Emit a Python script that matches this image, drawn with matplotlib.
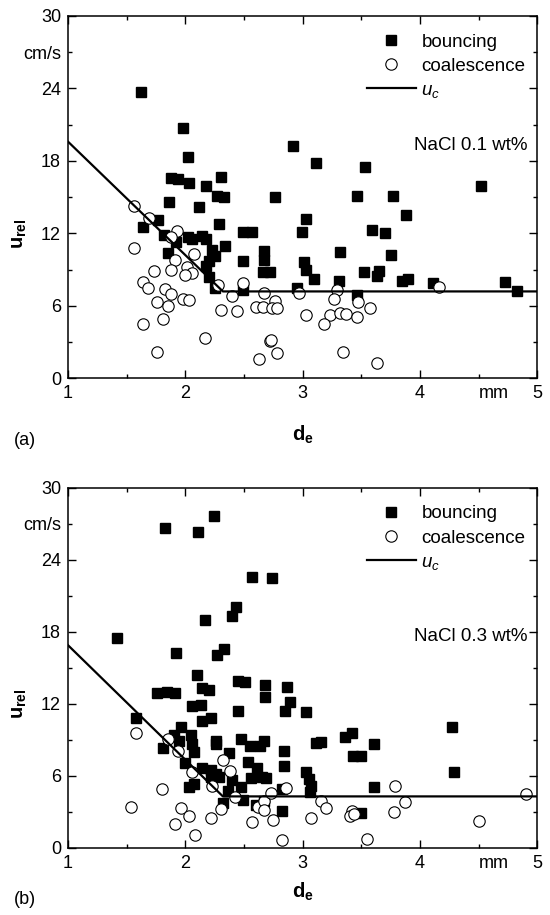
import matplotlib
matplotlib.use("Agg")
import matplotlib.pyplot as plt

plt.rcParams['font.family'] = ['Liberation Sans', 'DejaVu Sans']
plt.rcParams['mathtext.fontset'] = 'custom'
plt.rcParams['mathtext.rm'] = 'Liberation Sans'
plt.rcParams['mathtext.it'] = 'Liberation Sans:italic'
plt.rcParams['mathtext.bf'] = 'Liberation Sans:bold'

# ---------------- Panel (a): NaCl 0.1 wt% ----------------
a_bounce_d = [1.62, 1.98, 2.02, 1.88, 1.94, 2.03, 2.30, 2.18, 2.27, 2.33, 1.86, 2.12, 1.77, 1.64,
              2.29, 1.82, 1.92, 2.02, 2.06, 2.14, 2.18, 2.34, 2.49, 2.57, 1.85, 2.23, 2.25, 2.20,
              2.18, 2.20, 2.25, 2.49, 2.49, 2.67, 2.67, 2.66, 2.72, 2.76, 2.92, 3.03, 2.99, 3.01,
              3.03, 2.95, 3.11, 3.53, 3.46, 3.77, 3.88, 4.52, 3.59, 3.70, 3.32, 3.75, 3.10, 3.31,
              3.52, 3.65, 3.63, 3.85, 3.90, 4.11, 3.46, 4.72, 4.83]
a_bounce_u = [23.7, 20.7, 18.3, 16.6, 16.5, 16.2, 16.7, 15.9, 15.1, 15.05, 14.6, 14.2, 13.1, 12.5,
              12.8, 11.9, 11.3, 11.7, 11.55, 11.8, 11.55, 11.0, 12.1, 12.1, 10.4, 10.6, 10.1, 9.7,
              9.3, 8.4, 7.5, 9.7, 7.3, 10.55, 9.8, 8.8, 8.8, 15.0, 19.2, 13.2, 12.1, 9.6,
              9.0, 7.5, 17.8, 17.5, 15.1, 15.1, 13.5, 15.9, 12.3, 12.0, 10.5, 10.2, 8.2, 8.1,
              8.8, 8.9, 8.5, 8.1, 8.2, 7.9, 6.9, 8.0, 7.2]
a_coal_d = [1.56, 1.69, 1.56, 1.93, 1.88, 2.07, 1.91, 2.01, 2.06, 2.00, 1.88, 1.73, 1.64, 1.68,
            1.83, 1.88, 1.76, 1.85, 1.98, 2.03, 1.81, 1.64, 1.76, 2.28, 2.40, 2.49, 2.30, 2.44,
            2.17, 2.67, 2.60, 2.66, 2.76, 2.74, 2.78, 2.72, 2.73, 2.78, 2.63, 2.97, 3.03, 3.29,
            3.27, 3.47, 3.57, 3.23, 3.32, 3.37, 3.46, 3.18, 3.34, 3.63, 4.16]
a_coal_u = [14.3, 13.3, 10.8, 12.2, 11.7, 10.3, 9.8, 9.25, 8.75, 8.55, 9.0, 8.9, 8.0, 7.5,
            7.4, 7.0, 6.3, 6.0, 6.6, 6.5, 4.9, 4.5, 2.2, 7.7, 6.8, 7.9, 5.7, 5.6,
            3.35, 7.05, 5.9, 5.9, 6.4, 5.8, 5.8, 3.1, 3.2, 2.1, 1.6, 7.1, 5.25, 7.3,
            6.6, 6.3, 5.8, 5.25, 5.4, 5.3, 5.1, 4.5, 2.2, 1.3, 7.55]
a_uc_d = [1.0, 2.32, 5.0]
a_uc_u = [19.6, 7.2, 7.2]

# ---------------- Panel (b): NaCl 0.3 wt% ----------------
b_bounce_d = [1.83, 2.11, 2.24, 2.57, 2.74, 2.43, 2.40, 2.17, 1.42, 1.92, 2.33, 2.27, 2.10, 1.76,
              1.84, 1.91, 2.14, 2.20, 2.45, 2.51, 2.68, 2.68, 2.87, 2.06, 2.13, 2.45, 2.85, 2.89,
              2.14, 2.22, 1.58, 1.96, 1.90, 1.95, 2.05, 2.06, 2.07, 1.81, 2.26, 2.26, 2.47, 2.55,
              2.64, 2.67, 2.37, 2.84, 2.84, 2.53, 2.61, 2.65, 2.69, 2.00, 2.14, 2.22, 2.29, 2.22,
              2.26, 2.40, 2.47, 2.56, 2.03, 2.07, 2.36, 2.32, 2.49, 2.60, 2.67, 2.82, 2.82, 3.03,
              3.36, 3.42, 3.11, 3.16, 3.43, 3.50, 3.61, 4.27, 4.29, 3.03, 3.05, 3.07, 3.06, 3.61,
              3.50]
b_bounce_u = [26.7, 26.3, 27.7, 22.6, 22.5, 20.1, 19.3, 19.0, 17.5, 16.25, 16.6, 16.1, 14.4, 12.9,
              13.0, 12.9, 13.3, 13.2, 13.9, 13.85, 13.6, 12.6, 13.45, 11.8, 11.9, 11.4, 11.4, 12.2,
              10.6, 10.85, 10.85, 10.05, 9.4, 8.95, 9.4, 8.7, 8.0, 8.3, 8.95, 8.7, 9.1, 8.5,
              8.5, 8.95, 7.9, 8.05, 6.85, 7.2, 6.7, 5.95, 5.8, 7.1, 6.65, 6.5, 5.95, 5.95,
              6.2, 5.7, 5.1, 5.8, 5.1, 5.3, 4.75, 3.75, 4.0, 3.6, 3.9, 3.05, 4.9, 11.3,
              9.25, 9.55, 8.75, 8.8, 7.7, 7.65, 8.65, 10.05, 6.3, 6.35, 5.75, 5.15, 4.65, 5.05,
              2.9]
b_coal_d = [1.58, 1.85, 1.94, 2.06, 2.32, 2.38, 2.23, 1.80, 1.54, 1.96, 2.03, 1.91, 2.08, 2.22,
            2.30, 2.42, 2.57, 2.62, 2.67, 2.67, 2.73, 2.75, 2.82, 2.86, 3.16, 3.20, 3.07, 3.42,
            3.40, 3.44, 3.79, 3.87, 3.78, 3.55, 4.50, 4.90]
b_coal_u = [9.6, 9.1, 8.05, 6.3, 7.3, 6.4, 5.15, 4.9, 3.4, 3.3, 2.7, 2.0, 1.1, 2.5,
            3.25, 4.25, 2.2, 3.45, 3.9, 3.2, 4.55, 2.3, 0.7, 5.0, 3.95, 3.3, 2.5, 3.05,
            2.65, 2.8, 5.2, 3.85, 3.0, 0.75, 2.25, 4.5]
b_uc_d = [1.0, 2.32, 5.0]
b_uc_u = [16.9, 4.3, 4.3]

x_major = [1, 2, 3, 4, 5]
x_major_labels = ['1', '2', '3', '4', '5']
x_minor = [1.5, 2.5, 3.5, 4.5]
x_minor_labels = ['', '', '', 'mm']
y_major = [0, 6, 12, 18, 24, 30]
y_major_labels = ['0', '6', '12', '18', '24', '30']
y_minor = [3, 9, 15, 21, 27]
y_minor_labels = ['', '', '', '', 'cm/s']

panels = [
    ('(a)', 'NaCl 0.1 wt%', a_bounce_d, a_bounce_u, a_coal_d, a_coal_u, a_uc_d, a_uc_u),
    ('(b)', 'NaCl 0.3 wt%', b_bounce_d, b_bounce_u, b_coal_d, b_coal_u, b_uc_d, b_uc_u),
]

W, H = 550, 915
fig = plt.figure(figsize=(W / 100, H / 100), dpi=100)
left_px, right_px = 68, 537.4
axes_px = [(16, 378.4), (488, 848)]
salt_y = [0.643, 0.587]
xlabel_y = [-0.125, -0.092]
tag_off = [62, 51]

TICK_FS = 13
TEXT_FS = 13.5
LABEL_FS = 14.5

for i, ((tag, salt, bd, bu, cd, cu, ud, uu), (top, bot)) in enumerate(zip(panels, axes_px)):
    ax = fig.add_axes([left_px / W, 1 - bot / H, (right_px - left_px) / W, (bot - top) / H])
    ax.plot(bd, bu, linestyle='none', marker='s', markersize=7.6, color='black',
            label='bouncing', zorder=2)
    ax.plot(cd, cu, linestyle='none', marker='o', markersize=8.2, markerfacecolor='white',
            markeredgecolor='black', markeredgewidth=0.8, label='coalescence', zorder=3)
    ax.plot(ud, uu, color='black', linewidth=1.6, label=r'$u_c$', zorder=4)

    ax.set_xlim(1, 5)
    ax.set_ylim(0, 30)
    ax.set_xticks(x_major, labels=x_major_labels)
    ax.set_xticks(x_minor, labels=x_minor_labels, minor=True)
    ax.set_yticks(y_major, labels=y_major_labels)
    ax.set_yticks(y_minor, labels=y_minor_labels, minor=True)
    ax.tick_params(which='both', direction='in', top=True, right=True,
                   labelsize=TICK_FS, width=1.0, pad=5)
    ax.tick_params(which='major', length=5.5)
    ax.tick_params(which='minor', length=3)
    for lbl in ax.get_xticklabels(minor=True):
        lbl.set_horizontalalignment('left')
    for s in ax.spines.values():
        s.set_linewidth(1.1)

    ax.set_ylabel(r'$\mathbf{u_{rel}}$', fontsize=LABEL_FS)
    ax.yaxis.set_label_coords(-0.083, 0.40)
    ax.set_xlabel(r'$\mathbf{d_e}$', fontsize=LABEL_FS)
    ax.xaxis.set_label_coords(0.5, xlabel_y[i])

    ax.text(0.978, salt_y[i], salt, transform=ax.transAxes,
            ha='right', va='center', fontsize=TEXT_FS)

    ax.legend(loc='upper left', bbox_to_anchor=(0.637, 0.952), frameon=False,
              fontsize=TEXT_FS, handlelength=2.6, handletextpad=0.3,
              labelspacing=0.38, borderpad=0, borderaxespad=0, numpoints=1)

    fig.text(14 / W, 1 - (bot + tag_off[i]) / H, tag, ha='left', va='center', fontsize=TICK_FS)

fig.savefig('out.png', dpi=100)
